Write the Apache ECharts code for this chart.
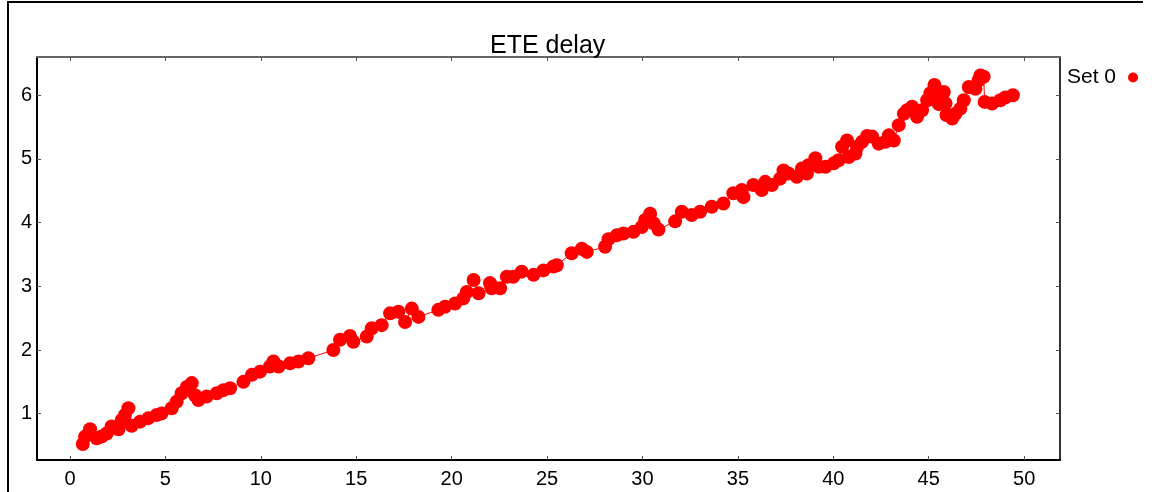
<!DOCTYPE html>
<html>
<head>
<meta charset="utf-8">
<script src="https://cdn.jsdelivr.net/npm/echarts@6/dist/echarts.min.js"></script>
<style>html,body{margin:0;padding:0;background:#fff}#c{width:1152px;height:492px}</style>
</head>
<body>
<div id="c"></div>
<script>
const title = 'ETE delay';
const seriesName = 'Set 0';
const xTicks = [0, 5, 10, 15, 20, 25, 30, 35, 40, 45, 50];
const yTicks = [1, 2, 3, 4, 5, 6];
const xs = [0.67,0.79,1.05,1.40,1.66,1.92,2.18,2.54,2.71,2.88,3.06,3.23,3.67,4.11,4.54,4.80,5.33,5.59,5.85,6.12,6.38,6.55,6.73,7.16,7.69,8.04,8.39,9.09,9.53,9.96,10.48,10.66,10.93,11.53,11.97,12.49,
13.8,14.15,14.67,14.85,15.55,15.81,16.33,16.77,17.21,17.56,17.91,18.26,19.30,19.65,20.18,20.61,20.79,21.15,21.41,22.01,22.10,22.54,22.89,23.23,23.67,24.29,24.81,25.34,
25.51,26.29,26.82,27.08,28.04,28.22,28.65,29.0,29.53,29.96,30.14,30.40,30.58,30.84,31.71,32.06,32.58,33.02,33.63,34.24,34.76,35.20,35.29,35.81,36.25,36.43,36.78,37.21,37.39,37.65,38.09,38.36,38.70,
38.62,39.06,39.23,39.59,40.02,40.28,40.46,40.72,40.81,41.16,41.25,41.51,41.77,42.04,42.38,42.73,42.91,43.17,43.43,43.70,43.87,44.13,44.39,44.65,44.92,45.09,45.30,45.44,45.53,45.79,45.88,45.93,46.23,46.40,46.66,46.84,47.10,47.45,47.62,47.71,47.88,47.93,48.32,48.75,49.01,49.41];
const ys = [0.525,0.64,0.755,0.615,0.64,0.69,0.80,0.755,0.90,0.98,1.085,0.81,0.875,0.93,0.98,1.005,1.085,1.19,1.32,1.42,1.48,1.29,1.215,1.27,1.32,1.37,1.40,1.50,1.61,1.66,1.74,1.82,1.74,1.79,1.82,1.87,
2.0,2.16,2.22,2.13,2.21,2.34,2.39,2.575,2.60,2.44,2.65,2.52,2.63,2.68,2.73,2.81,2.91,3.10,2.89,3.05,2.97,2.97,3.15,3.15,3.23,3.18,3.25,3.31,
3.33,3.52,3.59,3.54,3.62,3.74,3.80,3.83,3.855,3.93,4.04,4.14,3.99,3.89,4.02,4.17,4.12,4.17,4.25,4.30,4.46,4.51,4.40,4.59,4.51,4.64,4.59,4.69,4.82,4.77,4.72,4.85,4.90,
4.77,5.01,4.875,4.875,4.93,4.98,5.19,5.29,5.03,5.085,5.19,5.27,5.36,5.35,5.24,5.27,5.37,5.29,5.53,5.71,5.765,5.82,5.66,5.765,5.92,6.03,6.16,5.92,5.86,6.05,5.87,5.69,5.635,5.71,5.79,5.92,6.13,6.10,6.235,6.31,6.29,5.895,5.87,5.92,5.965,6.0];

const data = xs.map((x, i) => [x, ys[i]]);
const font = 'Liberation Sans, Arial, sans-serif';
const chart = echarts.init(document.getElementById('c'), null, {renderer: 'canvas'});
const tickStyle = {show: true, inside: true, length: 4, lineStyle: {color: '#555', width: 1}};
chart.setOption({
  animation: false,
  backgroundColor: '#fff',
  title: {text: title, left: 485, top: 29,
    textStyle: {fontFamily: font, fontSize: 25, fontWeight: 'normal', color: '#000'}},
  legend: {data: [seriesName], left: 1062, top: 62, align: 'right', icon: 'circle', itemWidth: 10, itemHeight: 10,
    textStyle: {fontFamily: font, fontSize: 21, color: '#000', padding: [0, 7, 0, 0]}},
  grid: {left: 37, right: 92, top: 57, bottom: 32, containLabel: false},
  xAxis: [
    {type: 'value', min: -1.73, max: 51.88, position: 'bottom',
     axisLine: {show: true, onZero: false, lineStyle: {color: '#000', width: 2}},
     axisTick: Object.assign({customValues: xTicks}, tickStyle),
     axisLabel: {customValues: xTicks, margin: 9, fontFamily: font, fontSize: 20, color: '#000'},
     splitLine: {show: false}},
    {type: 'value', min: -1.73, max: 51.88, position: 'top',
     axisLine: {show: true, onZero: false, lineStyle: {color: '#666', width: 2}},
     axisTick: Object.assign({customValues: xTicks}, tickStyle),
     axisLabel: {show: false}, splitLine: {show: false}}
  ],
  yAxis: [
    {type: 'value', min: 0.273, max: 6.6, position: 'left',
     axisLine: {show: true, onZero: false, lineStyle: {color: '#000', width: 2}},
     axisTick: Object.assign({customValues: yTicks}, tickStyle),
     axisLabel: {customValues: yTicks, margin: 5, fontFamily: font, fontSize: 20, color: '#000'},
     splitLine: {show: false}},
    {type: 'value', min: 0.273, max: 6.6, position: 'right',
     axisLine: {show: true, onZero: false, lineStyle: {color: '#333', width: 2}},
     axisTick: Object.assign({customValues: yTicks}, tickStyle),
     axisLabel: {show: false}, splitLine: {show: false}}
  ],
  series: [{
    name: seriesName, type: 'line', data: data, xAxisIndex: 0, yAxisIndex: 0,
    symbol: 'circle', symbolSize: 14, showAllSymbol: true,
    lineStyle: {color: '#ff0000', width: 1},
    itemStyle: {color: '#ff0000'}
  }],
  graphic: [{type: 'polyline', shape: {points: [[8, 492], [8, 2], [1143, 2]]}, style: {stroke: '#000', lineWidth: 2, fill: null}}]
});
</script>
</body>
</html>
